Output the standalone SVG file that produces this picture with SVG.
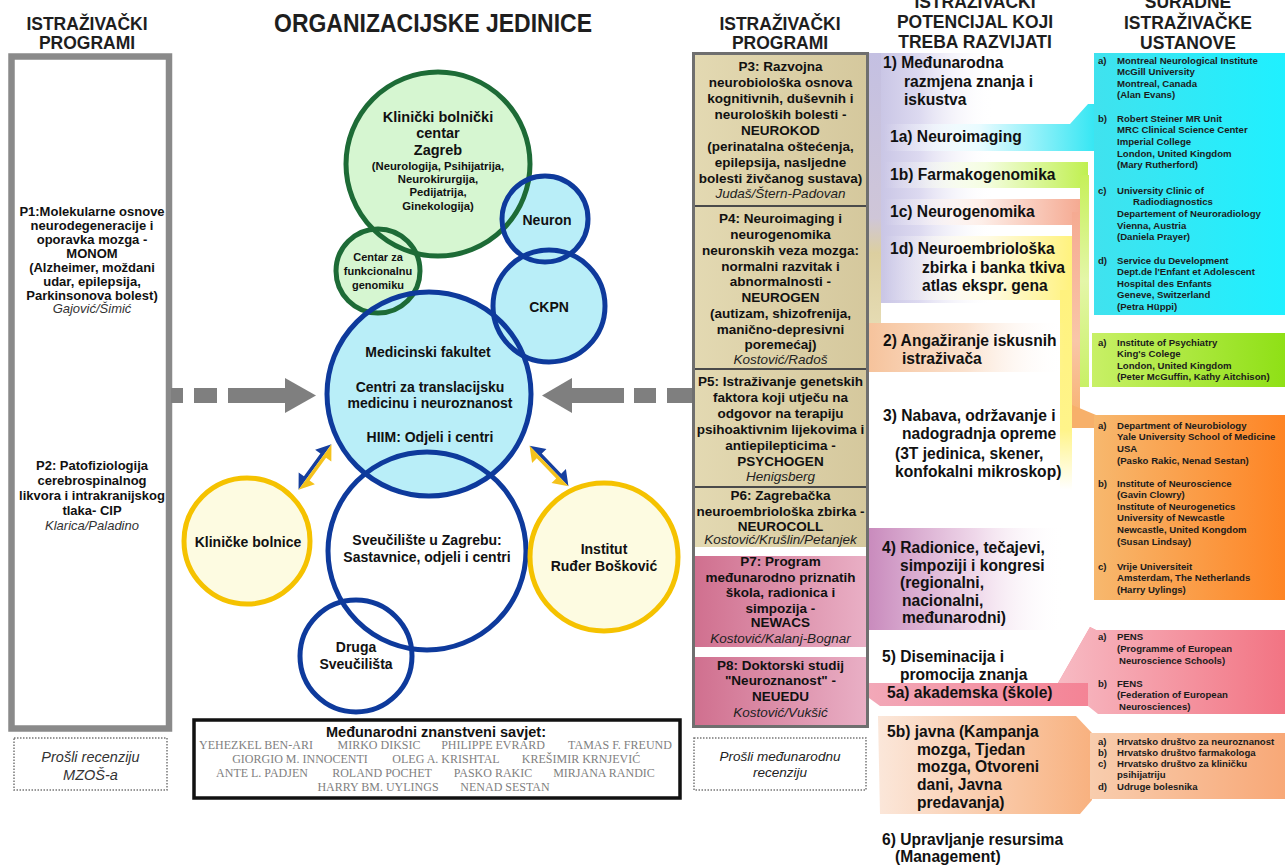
<svg xmlns="http://www.w3.org/2000/svg" width="1285" height="867" viewBox="0 0 1285 867">
<defs>
<style>
text{font-family:"Liberation Sans",Arial,sans-serif}
.hd{font-weight:bold;font-size:17.5px;fill:#1e1e1e;text-anchor:middle}
.lb{font-weight:bold;font-size:13px;fill:#111;text-anchor:middle}
.li{font-style:italic;font-size:13px;fill:#333;text-anchor:middle}
.mb{font-weight:bold;font-size:13.5px;fill:#111;text-anchor:middle}
.mi{font-style:italic;font-size:13.5px;fill:#222;text-anchor:middle}
.pb{font-weight:bold;font-size:15.6px;fill:#111}
.rb{font-weight:bold;font-size:9.6px;fill:#1b1b1b}
.cb{font-weight:bold;text-anchor:middle;fill:#111}
.nm{font-family:"Liberation Serif","Times New Roman",serif;font-size:12px;fill:#808080;text-anchor:middle}
.rv{font-style:italic;font-size:14.5px;fill:#333;text-anchor:middle}
.dash{fill:#fff;stroke:#777;stroke-width:1.5;stroke-dasharray:1.5 1.5}
.ga{fill:#7f7f7f}
.ob{fill:none;stroke:#0e3a9c;stroke-width:5}
.og{fill:none;stroke:#1d6b36;stroke-width:5}
.oy{fill:none;stroke:#f5c200;stroke-width:5}
.div{stroke:#4a4a4a;stroke-width:2}
.ab{fill:#163f9e}
.ay{fill:#f4c21c}
</style>
<linearGradient id="tan" x1="0" y1="0" x2="1" y2="0"><stop offset="0" stop-color="#e3d9b2"/><stop offset="1" stop-color="#d5c89d"/></linearGradient>
<linearGradient id="pink" x1="0" y1="0" x2="1" y2="0"><stop offset="0" stop-color="#d0708f"/><stop offset="1" stop-color="#e9afc5"/></linearGradient>
<linearGradient id="lav" x1="0" y1="0" x2="1" y2="0"><stop offset="0" stop-color="#c4c0e2"/><stop offset="0.4" stop-color="#dcd9f0"/><stop offset="1" stop-color="#ffffff" stop-opacity="0"/></linearGradient>
<linearGradient id="cyanBand" x1="0" y1="0" x2="1" y2="0"><stop offset="0" stop-color="#ffffff" stop-opacity="0"/><stop offset="0.45" stop-color="#e8fbff"/><stop offset="1" stop-color="#34e6f3"/></linearGradient>
<linearGradient id="greenBand" x1="0" y1="0" x2="1" y2="0"><stop offset="0" stop-color="#ffffff" stop-opacity="0"/><stop offset="0.5" stop-color="#f4fde0"/><stop offset="1" stop-color="#c0f050"/></linearGradient>
<linearGradient id="salBand" x1="0" y1="0" x2="1" y2="0"><stop offset="0" stop-color="#ffffff" stop-opacity="0"/><stop offset="0.5" stop-color="#fdeee8"/><stop offset="1" stop-color="#f5aa92"/></linearGradient>
<linearGradient id="yelBand" x1="0" y1="0" x2="1" y2="0"><stop offset="0" stop-color="#ffffff" stop-opacity="0"/><stop offset="0.55" stop-color="#fffbe4"/><stop offset="1" stop-color="#fff27e"/></linearGradient>
<linearGradient id="peachL" x1="0" y1="0" x2="1" y2="0"><stop offset="0" stop-color="#f6c39c"/><stop offset="0.5" stop-color="#fbe2cf"/><stop offset="1" stop-color="#ffffff" stop-opacity="0"/></linearGradient>
<linearGradient id="purpL" x1="0" y1="0" x2="1" y2="0"><stop offset="0" stop-color="#c98bbd"/><stop offset="0.55" stop-color="#efd8ea"/><stop offset="1" stop-color="#ffffff" stop-opacity="0"/></linearGradient>
<linearGradient id="pinkBand" x1="0" y1="0" x2="1" y2="0"><stop offset="0" stop-color="#f2a8b8"/><stop offset="1" stop-color="#f48294"/></linearGradient>
<linearGradient id="peach5b" x1="0" y1="0" x2="1" y2="0"><stop offset="0" stop-color="#fbe7da"/><stop offset="1" stop-color="#f8b17f"/></linearGradient>
<linearGradient id="cyanBox" x1="0" y1="0" x2="1" y2="0"><stop offset="0" stop-color="#40e2ee"/><stop offset="1" stop-color="#1ff0ff"/></linearGradient>
<linearGradient id="greenBox" x1="0" y1="0" x2="1" y2="0"><stop offset="0" stop-color="#c8f066"/><stop offset="1" stop-color="#8fe016"/></linearGradient>
<linearGradient id="orangeBox" x1="0" y1="0" x2="1" y2="0"><stop offset="0" stop-color="#f7b86e"/><stop offset="1" stop-color="#fe8424"/></linearGradient>
<linearGradient id="pinkBox" x1="0" y1="0" x2="1" y2="0"><stop offset="0" stop-color="#f7bac3"/><stop offset="1" stop-color="#f27483"/></linearGradient>
<linearGradient id="hrvBox" x1="0" y1="0" x2="1" y2="0"><stop offset="0" stop-color="#f8cdae"/><stop offset="1" stop-color="#f8a877"/></linearGradient>
<linearGradient id="yelV" x1="0" y1="0" x2="0" y2="1"><stop offset="0" stop-color="#fff27e"/><stop offset="0.7" stop-color="#fff48a"/><stop offset="1" stop-color="#fff48a" stop-opacity="0"/></linearGradient>
<linearGradient id="greenV" x1="0" y1="0" x2="0" y2="1"><stop offset="0" stop-color="#c6f05a"/><stop offset="0.5" stop-color="#e4f6a8"/><stop offset="1" stop-color="#c8f066"/></linearGradient>
<linearGradient id="salV" x1="0" y1="0" x2="0" y2="1"><stop offset="0" stop-color="#f5aa92"/><stop offset="0.6" stop-color="#f9c6a8"/><stop offset="1" stop-color="#f7b06a"/></linearGradient>
<linearGradient id="leftV" x1="0" y1="0" x2="0" y2="1"><stop offset="0" stop-color="#c4c0e2"/><stop offset="0.33" stop-color="#cfc6d8"/><stop offset="0.4" stop-color="#dccfa0"/><stop offset="0.55" stop-color="#e6dcb4"/><stop offset="0.6" stop-color="#ffffff" stop-opacity="0"/><stop offset="1" stop-color="#ffffff" stop-opacity="0"/></linearGradient>
<path id="arrB" d="M-28,0 L-14,-10 L-14,-3.5 L14,-3.5 L14,-10 L28,0 Z"/>
<path id="arrY" d="M-28,0 L-14,10 L-14,3.5 L14,3.5 L14,10 L28,0 Z"/>
</defs>
<rect width="1285" height="867" fill="#fff"/>

<g id="left-programs">
<text class="hd" x="87" y="29.5">ISTRAŽIVAČKI</text>
<text class="hd" x="87" y="49">PROGRAMI</text>
<rect x="11.5" y="56.5" width="157.5" height="672" fill="#fff" stroke="#8a8a8a" stroke-width="6.5"/>
<text class="lb" x="92" y="216">P1:Molekularne osnove</text>
<text class="lb" x="92" y="230">neurodegeneracije i</text>
<text class="lb" x="92" y="244">oporavka mozga -</text>
<text class="lb" x="92" y="258">MONOM</text>
<text class="lb" x="92" y="271.5">(Alzheimer, moždani</text>
<text class="lb" x="92" y="285.5">udar, epilepsija,</text>
<text class="lb" x="92" y="299.5">Parkinsonova bolest)</text>
<text class="li" x="92" y="313">Gajović/Šimić</text>
<text class="lb" x="92" y="469.5">P2: Patofiziologija</text>
<text class="lb" x="92" y="484.5">cerebrospinalnog</text>
<text class="lb" x="92" y="499.5">likvora i intrakranijskog</text>
<text class="lb" x="92" y="514.5">tlaka- CIP</text>
<text class="li" x="92" y="530">Klarica/Paladino</text>
</g>
<g id="left-review">
<rect class="dash" x="14" y="738" width="153" height="52"/>
<text class="rv" x="90.5" y="762">Prošli recenziju</text>
<text class="rv" x="90.5" y="780">MZOŠ-a</text>
</g>

<g id="title">
<text x="433" y="32" font-weight="bold" font-size="25" fill="#1e1e1e" text-anchor="middle" textLength="318" lengthAdjust="spacingAndGlyphs">ORGANIZACIJSKE JEDINICE</text>
</g>

<g id="sveuciliste">
<circle cx="427" cy="551" r="99" fill="#fff"/>
<text class="cb" x="427" y="545" font-size="14">Sveučilište u Zagrebu:</text>
<text class="cb" x="427" y="562" font-size="14">Sastavnice, odjeli i centri</text>
</g>
<g id="druga">
<circle cx="356" cy="656" r="56" fill="#fff"/>
<text class="cb" x="356" y="652" font-size="14">Druga</text>
<text class="cb" x="356" y="669" font-size="14">Sveučilišta</text>
</g>
<g id="kbc">
<circle cx="438" cy="164" r="92" fill="#d6f6d1"/>
<text class="cb" x="438" y="122" font-size="14.5">Klinički bolnički</text>
<text class="cb" x="438" y="138" font-size="14.5">centar</text>
<text class="cb" x="438" y="155" font-size="14.5">Zagreb</text>
<text class="cb" x="438" y="170" font-size="11.3">(Neurologija, Psihijatrija,</text>
<text class="cb" x="438" y="183" font-size="11.3">Neurokirurgija,</text>
<text class="cb" x="438" y="196" font-size="11.3">Pedijatrija,</text>
<text class="cb" x="438" y="210" font-size="11.3">Ginekologija)</text>
</g>
<g id="cfg">
<circle cx="378" cy="271" r="42" fill="#d6f6d1"/>
<text class="cb" x="378" y="261" font-size="11">Centar za</text>
<text class="cb" x="378" y="275" font-size="11">funkcionalnu</text>
<text class="cb" x="378" y="289" font-size="11">genomiku</text>
</g>
<g id="neuron">
<circle cx="545" cy="219" r="43" fill="#b9eef8"/>
<text class="cb" x="547" y="225" font-size="14">Neuron</text>
</g>
<g id="ckpn">
<circle cx="549" cy="306" r="56" fill="#b9eef8"/>
<text class="cb" x="549" y="312" font-size="14">CKPN</text>
</g>
<g id="medfak">
<circle cx="429" cy="394" r="102" fill="#b9eef8"/>
<text class="cb" x="428" y="357" font-size="14">Medicinski fakultet</text>
<text class="cb" x="430" y="392" font-size="14">Centri za translacijsku</text>
<text class="cb" x="430" y="408" font-size="14">medicinu i neuroznanost</text>
<text class="cb" x="430" y="442" font-size="14">HIIM: Odjeli i centri</text>
</g>
<g id="klinicke">
<circle cx="247" cy="541" r="63" fill="#fdfbe1"/>
<text class="cb" x="248" y="547" font-size="14">Kliničke bolnice</text>
</g>
<g id="irb">
<circle cx="604" cy="557" r="74" fill="#fdfbe1"/>
<text class="cb" x="604" y="554" font-size="14">Institut</text>
<text class="cb" x="604" y="571" font-size="14">Ruđer Bošković</text>
</g>

<g id="outlines">
<circle class="og" cx="438" cy="164" r="92"/>
<circle class="og" cx="378" cy="271" r="42"/>
<circle class="ob" cx="545" cy="219" r="43"/>
<circle class="ob" cx="549" cy="306" r="56"/>
<circle class="ob" cx="427" cy="551" r="99"/>
<circle class="ob" cx="429" cy="394" r="102"/>
<circle class="ob" cx="356" cy="656" r="56"/>
<circle class="oy" cx="247" cy="541" r="63"/>
<circle class="oy" cx="604" cy="557" r="74"/>
</g>

<g id="connectors">
<rect class="ga" x="171" y="388" width="12" height="15"/>
<rect class="ga" x="194" y="388" width="23" height="15"/>
<rect class="ga" x="228" y="388" width="58" height="15"/>
<polygon class="ga" points="285,378 316,395.5 285,413"/>
<polygon class="ga" points="542,395.5 572,378 572,413"/>
<rect class="ga" x="571" y="388" width="53" height="15"/>
<rect class="ga" x="634" y="388" width="22" height="15"/>
<rect class="ga" x="667" y="388" width="25" height="15"/>
<g transform="translate(315,467) rotate(-54)">
<use href="#arrB" class="ab"/>
<use href="#arrY" class="ay"/>
</g>
<g transform="translate(549,466) rotate(46)">
<use href="#arrB" class="ab"/>
<use href="#arrY" class="ay"/>
</g>
</g>

<g id="board">
<rect x="194" y="720" width="486" height="78" fill="#fff" stroke="#111" stroke-width="3.5"/>
<text class="cb" x="436" y="737" font-size="14.5">Međunarodni znanstveni savjet:</text>
<text class="nm" x="256" y="749">YEHEZKEL BEN-ARI</text>
<text class="nm" x="379" y="749">MIRKO DIKSIC</text>
<text class="nm" x="493" y="749">PHILIPPE EVRARD</text>
<text class="nm" x="620" y="749">TAMAS F. FREUND</text>
<text class="nm" x="300" y="763">GIORGIO M. INNOCENTI</text>
<text class="nm" x="446" y="763">OLEG  A. KRISHTAL</text>
<text class="nm" x="581" y="763">KREŠIMIR KRNJEVIĆ</text>
<text class="nm" x="262" y="777">ANTE L. PADJEN</text>
<text class="nm" x="382" y="777">ROLAND POCHET</text>
<text class="nm" x="493" y="777">PASKO RAKIC</text>
<text class="nm" x="604" y="777">MIRJANA RANDIC</text>
<text class="nm" x="378" y="791">HARRY BM. UYLINGS</text>
<text class="nm" x="505" y="791">NENAD SESTAN</text>
</g>

<g id="ribbons">
<rect x="869" y="53" width="125" height="250" fill="url(#lav)"/>
<rect x="869" y="53" width="12" height="500" fill="url(#leftV)"/>
<polygon points="884,124 1070,124 1088,104 1096,104 1096,151 884,151" fill="url(#cyanBand)"/>
<rect x="884" y="162" width="204" height="26" fill="url(#greenBand)"/>
<rect x="1080" y="175" width="9" height="212" fill="url(#greenV)"/>
<rect x="884" y="199" width="196" height="26" fill="url(#salBand)"/>
<rect x="1072" y="212" width="8" height="215" fill="url(#salV)"/>
<polygon points="1072,405 1096,415 1096,428 1072,428" fill="#f7b06a"/>
<rect x="884" y="236" width="188" height="64" fill="url(#yelBand)"/>
<rect x="1060" y="290" width="12" height="200" fill="url(#yelV)"/>
<rect x="869" y="323" width="195" height="49" fill="url(#peachL)"/>
<rect x="869" y="528" width="195" height="102" fill="url(#purpL)"/>
<polygon points="1058,683 1090,627 1096,630 1096,683" fill="#f4909f"/>
<polygon points="869,683 1096,683 1096,706 880,706 869,698" fill="url(#pinkBand)"/>
<polygon points="878,716 1076,716 1092,733 1092,800 1080,814 880,814" fill="url(#peach5b)"/>
</g>

<g id="mid-programs">
<text class="hd" x="780" y="29.5">ISTRAŽIVAČKI</text>
<text class="hd" x="780" y="49">PROGRAMI</text>
<rect x="693.5" y="53.5" width="174" height="673" fill="#fff" stroke="#6f6f6f" stroke-width="3"/>
<rect x="695" y="55" width="171" height="151" fill="url(#tan)"/>
<rect x="695" y="206" width="171" height="163" fill="url(#tan)"/>
<rect x="695" y="369" width="171" height="118" fill="url(#tan)"/>
<rect x="695" y="487" width="171" height="60" fill="url(#tan)"/>
<rect x="695" y="556" width="171" height="91" fill="url(#pink)"/>
<rect x="695" y="657" width="171" height="68" fill="url(#pink)"/>
<line class="div" x1="695" y1="206" x2="866" y2="206"/>
<line class="div" x1="695" y1="369" x2="866" y2="369"/>
<line class="div" x1="695" y1="487" x2="866" y2="487"/>
<text class="mb" x="780.5" y="71">P3: Razvojna</text>
<text class="mb" x="780.5" y="87">neurobiološka osnova</text>
<text class="mb" x="780.5" y="103">kognitivnih, duševnih i</text>
<text class="mb" x="780.5" y="119">neuroloških bolesti -</text>
<text class="mb" x="780.5" y="135">NEUROKOD</text>
<text class="mb" x="780.5" y="151">(perinatalna oštećenja,</text>
<text class="mb" x="780.5" y="167">epilepsija, nasljedne</text>
<text class="mb" x="780.5" y="183">bolesti živčanog sustava)</text>
<text class="mi" x="780.5" y="198">Judaš/Štern-Padovan</text>
<text class="mb" x="780.5" y="223">P4: Neuroimaging i</text>
<text class="mb" x="780.5" y="239">neurogenomika</text>
<text class="mb" x="780.5" y="255">neuronskih veza mozga:</text>
<text class="mb" x="780.5" y="271">normalni razvitak i</text>
<text class="mb" x="780.5" y="286">abnormalnosti -</text>
<text class="mb" x="780.5" y="302">NEUROGEN</text>
<text class="mb" x="780.5" y="318">(autizam, shizofrenija,</text>
<text class="mb" x="780.5" y="334">manično-depresivni</text>
<text class="mb" x="780.5" y="349">poremećaj)</text>
<text class="mi" x="780.5" y="364">Kostović/Radoš</text>
<text class="mb" x="780.5" y="386">P5: Istraživanje genetskih</text>
<text class="mb" x="780.5" y="402">faktora koji utječu na</text>
<text class="mb" x="780.5" y="418">odgovor na terapiju</text>
<text class="mb" x="780.5" y="434">psihoaktivnim lijekovima i</text>
<text class="mb" x="780.5" y="450">antiepilepticima -</text>
<text class="mb" x="780.5" y="466">PSYCHOGEN</text>
<text class="mi" x="780.5" y="481">Henigsberg</text>
<text class="mb" x="780.5" y="500">P6: Zagrebačka</text>
<text class="mb" x="780.5" y="515.5">neuroembriološka zbirka -</text>
<text class="mb" x="780.5" y="531">NEUROCOLL</text>
<text class="mi" x="780.5" y="544">Kostović/Krušlin/Petanjek</text>
<text class="mb" x="780.5" y="566">P7: Program</text>
<text class="mb" x="780.5" y="582">međunarodno priznatih</text>
<text class="mb" x="780.5" y="597">škola, radionica i</text>
<text class="mb" x="780.5" y="613">simpozija -</text>
<text class="mb" x="780.5" y="627">NEWACS</text>
<text class="mi" x="780.5" y="643">Kostović/Kalanj-Bognar</text>
<text class="mb" x="780.5" y="670">P8: Doktorski studij</text>
<text class="mb" x="780.5" y="685">"Neuroznanost" -</text>
<text class="mb" x="780.5" y="701">NEUEDU</text>
<text class="mi" x="780.5" y="717">Kostović/Vukšić</text>
</g>
<g id="mid-review">
<rect class="dash" x="694" y="738" width="172" height="52"/>
<text class="mi" x="780" y="761">Prošli međunarodnu</text>
<text class="mi" x="780" y="777">recenziju</text>
</g>

<g id="potential">
<text class="hd" x="975" y="8">ISTRAŽIVAČKI</text>
<text class="hd" x="975" y="28">POTENCIJAL KOJI</text>
<text class="hd" x="975" y="48">TREBA RAZVIJATI</text>
<text class="pb" x="883" y="68">1) Međunarodna</text>
<text class="pb" x="904" y="87">razmjena znanja i</text>
<text class="pb" x="904" y="105">iskustva</text>
<text class="pb" x="890" y="142">1a) Neuroimaging</text>
<text class="pb" x="890" y="180">1b) Farmakogenomika</text>
<text class="pb" x="890" y="217">1c) Neurogenomika</text>
<text class="pb" x="890" y="254">1d) Neuroembriološka</text>
<text class="pb" x="922" y="273">zbirka i banka tkiva</text>
<text class="pb" x="922" y="291">atlas ekspr. gena</text>
<text class="pb" x="883" y="346">2) Angažiranje iskusnih</text>
<text class="pb" x="902" y="364">istraživača</text>
<text class="pb" x="883" y="421">3) Nabava, održavanje i</text>
<text class="pb" x="902" y="439">nadogradnja opreme</text>
<text class="pb" x="895" y="459">(3T jedinica, skener,</text>
<text class="pb" x="895" y="477">konfokalni mikroskop)</text>
<text class="pb" x="882" y="553">4) Radionice, tečajevi,</text>
<text class="pb" x="900" y="571">simpoziji i kongresi</text>
<text class="pb" x="900" y="588">(regionalni,</text>
<text class="pb" x="902" y="606">nacionalni,</text>
<text class="pb" x="902" y="623">međunarodni)</text>
<text class="pb" x="882" y="662">5) Diseminacija i</text>
<text class="pb" x="900" y="680">promocija znanja</text>
<text class="pb" x="887" y="698">5a) akademska (škole)</text>
<text class="pb" x="887" y="737">5b) javna (Kampanja</text>
<text class="pb" x="917" y="755">mozga, Tjedan</text>
<text class="pb" x="917" y="772">mozga, Otvoreni</text>
<text class="pb" x="917" y="790">dani, Javna</text>
<text class="pb" x="917" y="808">predavanja)</text>
<text class="pb" x="882" y="845">6) Upravljanje resursima</text>
<text class="pb" x="895" y="862">(Management)</text>
</g>

<g id="partners">
<text class="hd" x="1188" y="8">SURADNE</text>
<text class="hd" x="1188" y="29">ISTRAŽIVAČKE</text>
<text class="hd" x="1188" y="49">USTANOVE</text>
<rect x="1094" y="53" width="191" height="262" fill="url(#cyanBox)"/>
<rect x="1092" y="333" width="193" height="54" fill="url(#greenBox)"/>
<rect x="1094" y="415" width="191" height="185" fill="url(#orangeBox)"/>
<polygon points="1096,630 1285,630 1285,714 1098,714 1088,706 1088,683 1058,683 1090,627" fill="url(#pinkBox)"/>
<rect x="1090" y="733" width="195" height="66" fill="url(#hrvBox)"/>
<g class="rb">
<text x="1098" y="63.5">a)</text><text x="1117" y="63.5">Montreal Neurological Institute</text>
<text x="1117" y="75">McGill University</text>
<text x="1117" y="86.5">Montreal, Canada</text>
<text x="1117" y="98">(Alan Evans)</text>
<text x="1098" y="121.5">b)</text><text x="1117" y="121.5">Robert Steiner MR Unit</text>
<text x="1117" y="133">MRC Clinical Science Center</text>
<text x="1117" y="145">Imperial College</text>
<text x="1117" y="156.5">London, United Kingdom</text>
<text x="1117" y="168">(Mary Rutherford)</text>
<text x="1098" y="193.5">c)</text><text x="1117" y="193.5">University Clinic of</text>
<text x="1133" y="205">Radiodiagnostics</text>
<text x="1117" y="217">Departement of Neuroradiology</text>
<text x="1117" y="228.5">Vienna, Austria</text>
<text x="1117" y="240">(Daniela Prayer)</text>
<text x="1098" y="263.5">d)</text><text x="1117" y="263.5">Service du Development</text>
<text x="1117" y="275">Dept.de l'Enfant et Adolescent</text>
<text x="1117" y="286.5">Hospital des Enfants</text>
<text x="1117" y="298">Geneve, Switzerland</text>
<text x="1117" y="309.5">(Petra Hüppi)</text>
<text x="1098" y="345.5">a)</text><text x="1117" y="345.5">Institute of Psychiatry</text>
<text x="1117" y="357">King's Colege</text>
<text x="1117" y="368.5">London, United Kingdom</text>
<text x="1117" y="380">(Peter McGuffin, Kathy Aitchison)</text>
<text x="1098" y="428.5">a)</text><text x="1117" y="428.5">Department of Neurobiology</text>
<text x="1117" y="440">Yale University School of Medicine</text>
<text x="1117" y="451.5">USA</text>
<text x="1117" y="463.5">(Pasko Rakic, Nenad Sestan)</text>
<text x="1098" y="486.5">b)</text><text x="1117" y="486.5">Institute of Neuroscience</text>
<text x="1117" y="498">(Gavin Clowry)</text>
<text x="1117" y="509.5">Institute of Neurogenetics</text>
<text x="1117" y="521">University of Newcastle</text>
<text x="1117" y="532.5">Newcastle, United Kongdom</text>
<text x="1117" y="544.5">(Susan Lindsay)</text>
<text x="1098" y="569.5">c)</text><text x="1117" y="569.5">Vrije Universiteit</text>
<text x="1117" y="581">Amsterdam, The Netherlands</text>
<text x="1117" y="592.5">(Harry Uylings)</text>
<text x="1098" y="640">a)</text><text x="1117" y="640">PENS</text>
<text x="1117" y="652">(Programme of European</text>
<text x="1119" y="663.5">Neuroscience Schools)</text>
<text x="1098" y="686.5">b)</text><text x="1117" y="686.5">FENS</text>
<text x="1117" y="698">(Federation of European</text>
<text x="1119" y="709.5">Neurosciences)</text>
<text x="1098" y="745">a)</text><text x="1117" y="745">Hrvatsko društvo za neuroznanost</text>
<text x="1098" y="756">b)</text><text x="1117" y="756">Hrvatsko društvo farmakologa</text>
<text x="1098" y="767">c)</text><text x="1117" y="767">Hrvatsko društvo za kliničku</text>
<text x="1117" y="778">psihijatriju</text>
<text x="1098" y="790">d)</text><text x="1117" y="790">Udruge bolesnika</text>
</g>
</g>
</svg>
